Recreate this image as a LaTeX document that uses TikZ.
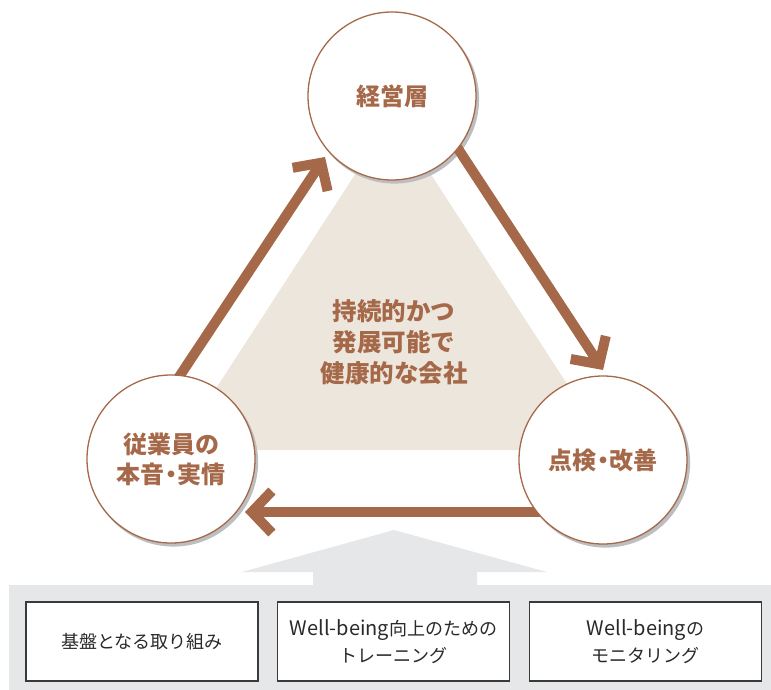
\documentclass[tikz,border=0pt]{standalone}
\usepackage{fontspec}
\newfontfamily\jp{Noto Sans CJK JP}
\usetikzlibrary{arrows.meta,calc}
\definecolor{brn}{HTML}{A5694A}
\definecolor{beige}{HTML}{ECE6DC}
\definecolor{panel}{HTML}{E6E7E9}
\definecolor{shd}{HTML}{BDBEC1}
\definecolor{boxline}{HTML}{3A3A3A}
\definecolor{boxtext}{HTML}{2A2A2A}
\pgfdeclarelayer{back}
\pgfdeclarelayer{shade}
\pgfdeclarelayer{arrowlayer}
\pgfsetlayers{back,shade,arrowlayer,main}
\newcommand\wbsize{\fontsize{20}{27}\selectfont}
\newcommand\mdot{\hspace{-.22em}・\hspace{-.22em}}
\begin{document}
\begin{tikzpicture}[x=1pt,y=-1pt,
  circ/.style={circle, draw=brn, line width=1.3pt, fill=white, minimum size=168pt, inner sep=0pt, text=brn, font=\jp\bfseries\fontsize{24}{30}\selectfont, align=center},
  flow/.style={draw=brn, line width=10pt, -{Straight Barb[sharp, length=20pt, width=42pt]}},
  itembox/.style={draw=boxline, line width=1.2pt, fill=white, minimum width=232pt, minimum height=79pt, inner sep=0pt, text=boxtext, font=\jp\fontsize{18}{27}\selectfont, align=center},
  centertext/.style={text=brn, font=\jp\bfseries\fontsize{24.5}{31}\selectfont, align=center}
]
\useasboundingbox (0,0) rectangle (771,690);

% circles
\node[circ] (T) at (392,96) {経営層};
\node[circ] (L) at (171,459) {従業員の\\本音\mdot 実情};
\node[circ] (R) at (603,460) {点検\mdot 改善};

% centre text
\node[centertext] (C) at (394,342) {持続的かつ\\発展可能で\\健康的な会社};

% boxes
\node[itembox] (B1) at (142,641.5) {基盤となる取り組み};
\node[itembox] (B2) at (393.5,641.5) {{\wbsize Well-being}向上のための\\トレーニング};
\node[itembox] (B3) at (645.5,641.5) {{\wbsize Well-being}の\\モニタリング};

% background shapes
\begin{pgfonlayer}{back}
  \fill[beige] (393,116) -- (610,450) -- (176,450) -- cycle;
  \fill[panel] (9,585) rectangle (771,690);
  \fill[panel] (242,572) -- (394,530) -- (547,572) -- (477,572) -- (477,586) -- (313,586) -- (313,572) -- cycle;
\end{pgfonlayer}

% shadows
\begin{pgfonlayer}{shade}
  \foreach \n in {T,L,R}{
    \fill[shd] ($(\n)+(2.5,3)$) circle[radius=84.6pt];
  }
\end{pgfonlayer}

% arrows
\coordinate (a1s) at ($(L)+(-4,-64)$);
\coordinate (a1e) at ($(T)+(-67,61)$);
\coordinate (a2s) at ($(T)+(57,39)$);
\coordinate (a2e) at ($(R)+(0,-90)$);
\coordinate (a3s) at ($(R)+(-43,52)$);
\coordinate (a3e) at ($(L)+(74,53)$);
\begin{pgfonlayer}{arrowlayer}
  \draw[flow] (a1s) -- (a1e);
  \draw[flow] (a2s) -- (a2e);
  \draw[flow] (a3s) -- (a3e);
\end{pgfonlayer}
\end{tikzpicture}
\end{document}
